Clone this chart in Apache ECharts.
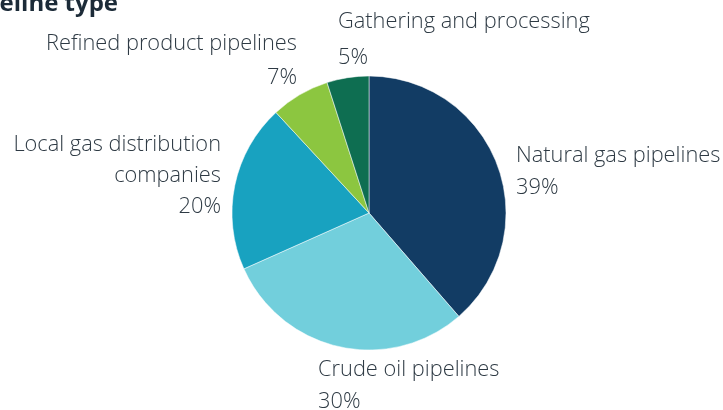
<!DOCTYPE html>
<html>
<head>
<meta charset="utf-8">
<script src="https://cdn.jsdelivr.net/npm/echarts@6/dist/echarts.min.js"></script>
<style>html,body{margin:0;padding:0;background:#fff}#c{width:723px;height:410px}</style>
</head>
<body>
<div id="c"></div>
<script>
const categories = ['Natural gas pipelines', 'Crude oil pipelines', 'Local gas distribution\ncompanies', 'Refined product pipelines', 'Gathering and processing']
const shares = [39, 30, 20, 7, 5]
const colors = ['#123c64', '#72cfdc', '#18a2c0', '#8cc640', '#0e6e51']
// label anchors: x, y of first line top, align, line height
const labelSpots = [
  [516, 140, 'left', 32], [318, 354, 'left', 32], [221, 129, 'right', 31], [297, 27, 'right', 34], [338, 4, 'left', 36]
]
const chart = echarts.init(document.getElementById('c'))
chart.setOption({
  animation: false,
  graphic: [{ type: 'text', x: 118, y: 4, style: { text: 'Pipeline type', align: 'right', verticalAlign: 'middle', font: 'bold 24px "Open Sans", Arial, sans-serif', fill: '#1c2b38' } }],
  series: [{
    type: 'pie',
    center: [369, 213],
    radius: 137,
    startAngle: 90,
    clockwise: true,
    label: {
      show: true,
      formatter: p => p.name + '\n' + p.value + '%',
      fontFamily: '"Open Sans", sans-serif',
      fontWeight: 300,
      fontSize: 21.8,
      lineHeight: 33,
      color: '#2e3a44',
      overflow: 'none'
    },
    labelLine: { show: false },
    labelLayout: p => {
      const s = labelSpots[p.dataIndex]
      return { x: s[0], y: s[1], align: s[2], verticalAlign: 'top' }
    },
    itemStyle: { borderColor: '#fff', borderWidth: 0.5 },
    emphasis: { disabled: true },
    data: categories.map((n, i) => ({
      name: n, value: shares[i],
      itemStyle: { color: colors[i] },
      label: { lineHeight: labelSpots[i][3] }
    }))
  }]
})
</script>
</body>
</html>
